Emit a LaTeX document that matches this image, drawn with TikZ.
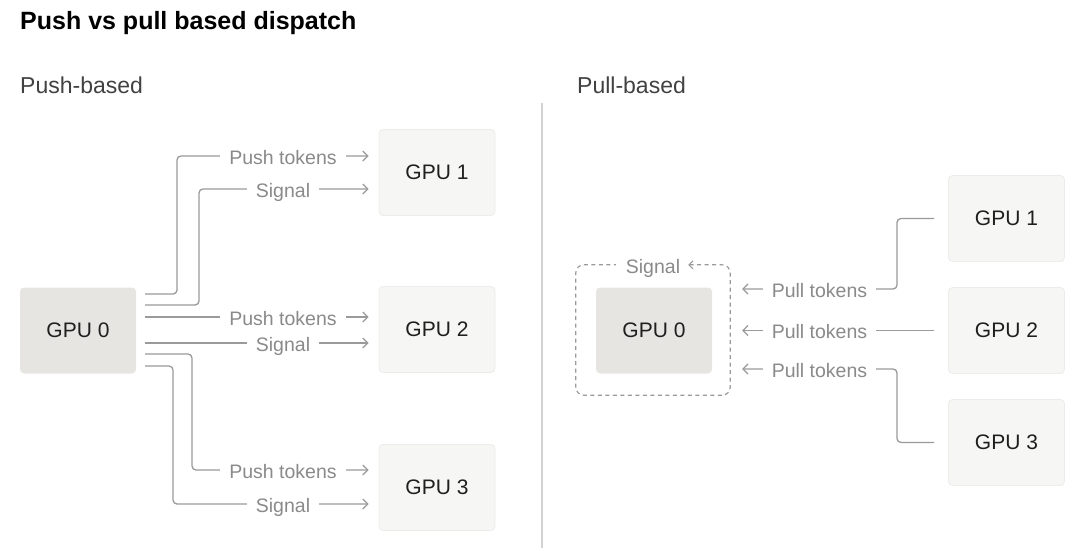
\documentclass[tikz,border=0pt]{standalone}
\usepackage{fontspec}
\setmainfont{Liberation Sans}
\usetikzlibrary{arrows.meta,calc}
\definecolor{gpuzero}{HTML}{E6E5E1}
\definecolor{gpuone}{HTML}{F6F6F4}
\definecolor{gpuoneborder}{HTML}{ECECEA}
\definecolor{linegray}{HTML}{9A9A9A}
\definecolor{labelgray}{HTML}{8A8A8A}
\definecolor{textdark}{HTML}{1F1F1F}
\definecolor{divider}{HTML}{D2D2D2}
\begin{document}
\begin{tikzpicture}[x=1pt,y=-1pt,
  gpubase/.style={rectangle, rounded corners=4pt, minimum width=116pt, minimum height=86pt,
    inner sep=0pt, text=textdark, font=\fontsize{21}{24}\selectfont},
  gpuzerobox/.style={gpubase, fill=gpuzero},
  gpuotherbox/.style={gpubase, fill=gpuone, draw=gpuoneborder, line width=0.8pt},
  conn/.style={draw=linegray, line width=1.3pt, rounded corners=4pt,
    -{Straight Barb[length=5pt,width=10pt,line width=1.2pt]}},
  lab/.style={fill=white, text=labelgray, font=\fontsize{19.5}{22}\selectfont,
    inner ysep=1pt, inner xsep=9pt, anchor=base},
  heading/.style={anchor=base west, inner sep=0pt, text=textdark},
]
\useasboundingbox (0,0) rectangle (1080,550);

% titles
\node[heading, font=\bfseries\fontsize{25}{29}\selectfont, text=black] (title) at (20,29) {Push vs pull based dispatch};
\node[heading, font=\fontsize{23}{26}\selectfont, text=textdark!85] (pushh) at (20,93) {Push-based};
\node[heading, font=\fontsize{23}{26}\selectfont, text=textdark!85] (pullh) at (577,93) {Pull-based};

% divider
\coordinate (dtop) at (542,103);
\coordinate (dbot) at (542,548);
\draw[divider, line width=1.5pt] (dtop) -- (dbot);

% ---------- push-based ----------
\node[gpuzerobox] (a0) at (78,330.5) {GPU 0};
\node[gpuotherbox] (a1) at (437,172.5) {GPU 1};
\node[gpuotherbox] (a2) at (437,329.5) {GPU 2};
\node[gpuotherbox] (a3) at (437,487.5) {GPU 3};

\draw[conn] ($(a0.east)+(9,-36.5)$) -| (177,156) -- ($(a1.west)+(-10,-16.5)$);
\draw[conn] ($(a0.east)+(9,-25.5)$) -| (199,189) -- ($(a1.west)+(-10,16.5)$);
\draw[conn] ($(a0.east)+(9,-13.5)$) -- ($(a2.west)+(-10,-12.5)$);
\draw[conn] ($(a0.east)+(9,12.5)$) -- ($(a2.west)+(-10,13.5)$);
\draw[conn] ($(a0.east)+(9,23.5)$) -| (192,470) -- ($(a3.west)+(-10,-17.5)$);
\draw[conn] ($(a0.east)+(9,35.5)$) -| (173,504) -- ($(a3.west)+(-10,16.5)$);

\node[lab] (p1) at (283,164) {Push tokens};
\node[lab] (s1) at (283,197) {Signal};
\node[lab] (p2) at (283,325) {Push tokens};
\node[lab] (s2) at (283,351) {Signal};
\node[lab] (p3) at (283,478) {Push tokens};
\node[lab] (s3) at (283,512) {Signal};

% ---------- pull-based ----------
\node[gpuzerobox] (b0) at (654,330.5) {GPU 0};
\node[gpuotherbox] (b1) at (1006.5,218.5) {GPU 1};
\node[gpuotherbox] (b2) at (1006.5,330.5) {GPU 2};
\node[gpuotherbox] (b3) at (1006.5,442.5) {GPU 3};

\node[minimum width=154pt, minimum height=130pt, inner sep=0pt] (frame) at (653,330) {};
\draw[linegray, line width=1.2pt, dash pattern=on 4pt off 3.5pt, rounded corners=8pt,
  {Straight Barb[length=4pt,width=8pt,line width=1.1pt]}-]
  ($(frame.north east)+(-42,0)$) -- (frame.north east) -- (frame.south east)
  -- (frame.south west) -- (frame.north west) -- ($(frame.north west)+(40,0)$);
\node[lab, inner xsep=0pt] (sig) at (653,273) {Signal};

\draw[conn] ($(b1.west)+(-14,0)$) -| (897,289) -- ($(frame.east)+(12,-41)$);
\draw[conn] ($(b2.west)+(-14,0)$) -- ($(frame.east)+(12,0.5)$);
\draw[conn] ($(b3.west)+(-14,0)$) -| (897,369) -- ($(frame.east)+(12,39)$);

\node[lab] (q1) at (819.5,297) {Pull tokens};
\node[lab] (q2) at (819.5,338) {Pull tokens};
\node[lab] (q3) at (819.5,377) {Pull tokens};
\end{tikzpicture}
\end{document}
